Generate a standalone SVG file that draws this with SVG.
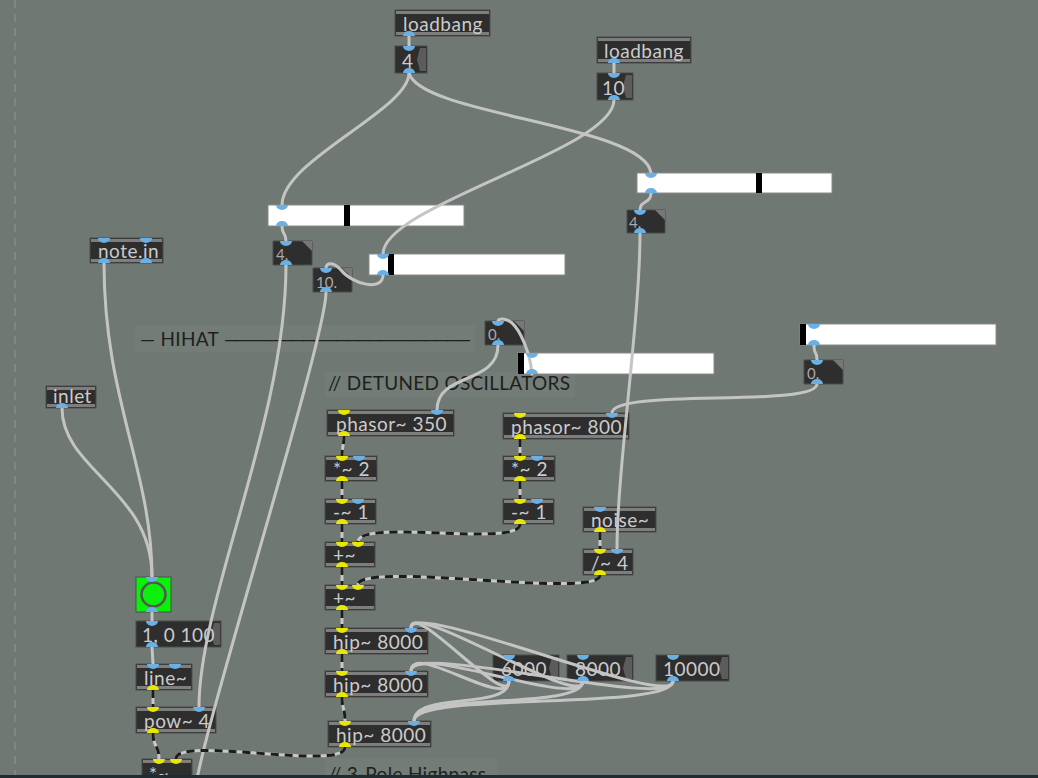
<svg xmlns="http://www.w3.org/2000/svg" xmlns:xlink="http://www.w3.org/1999/xlink" width="1038" height="778" viewBox="0 0 1038 778">
<style>
.bg{fill:#6f7872}
.ob{fill:#2e2e2e;stroke:#4c4c4c;stroke-width:1}
.bar{fill:#7e7e7e}
.t{font-family:Lato,"Liberation Sans",sans-serif;font-size:19px;letter-spacing:0.5px;fill:#cbcbcb}
.nt{font-family:Lato,"Liberation Sans",sans-serif;font-size:15px;fill:#a9a9a9}
.c{font-family:Lato,"Liberation Sans",sans-serif;font-size:19px;letter-spacing:0.3px;fill:#1f1f1f}
.cbg{fill:#737c76}
.flag{fill:#5c5c5c}
.corner{fill:#777}
.sl{fill:#ffffff;stroke:#8a8a8a;stroke-width:1}
.h{fill:#000}
.b{fill:#6ab0e4}
.y{fill:#e8e800}
.cord{fill:none;stroke:#c4c4c4;stroke-width:3;stroke-linecap:round}
.sig{fill:none;stroke:#c8c8c8;stroke-width:3}
.sigd{fill:none;stroke:#1c1c1c;stroke-width:3;stroke-dasharray:8 6}
</style>
<defs>
<path id="pin" d="M-6 0h12a6 5 0 0 1-12 0z"/>
<path id="pout" d="M-6 0h12a6 5 0 0 0-12 0z"/>
</defs>
<rect class="bg" x="0" y="0" width="1038" height="778"/>
<line x1="15" y1="0" x2="15" y2="778" stroke="#858c87" stroke-width="1.5" stroke-dasharray="8 6"/>

<!-- comments -->
<g id="cmt-hihat"><rect class="cbg" x="135" y="325" width="340" height="27"/><text class="c" x="140" y="346">— HIHAT <tspan letter-spacing="-4px">——————————————————————</tspan></text></g>
<g id="cmt-detuned"><rect class="cbg" x="325" y="372" width="250" height="25"/><text class="c" x="328" y="390">// DETUNED OSCILLATORS</text></g>
<g id="cmt-hp"><rect class="cbg" x="325" y="758" width="173" height="20"/><text class="c" x="328" y="781">// 3-Pole Highpass</text></g>

<!-- top -->
<g id="loadbang1"><rect class="ob" x="395" y="10" width="95" height="26"/><rect class="bar" x="396" y="11" width="93" height="3"/><rect class="bar" x="396" y="32" width="93" height="3"/><text class="t" x="403" y="31">loadbang</text></g>
<g id="msg4"><rect class="ob" x="395" y="46" width="32" height="27"/><polygon class="flag" points="420,48 426,48 426,71 420,71 417,59.5"/><text class="t" x="402" y="68">4</text></g>
<g id="loadbang2"><rect class="ob" x="597" y="37" width="94" height="26"/><rect class="bar" x="598" y="38" width="92" height="3"/><rect class="bar" x="598" y="59" width="92" height="3"/><text class="t" x="604" y="58">loadbang</text></g>
<g id="msg10"><rect class="ob" x="597" y="73" width="36" height="27"/><polygon class="flag" points="626,75 632,75 632,98 626,98 623,86.5"/><text class="t" x="602" y="95">10</text></g>

<!-- sliders -->
<g id="slider1"><rect class="sl" x="268" y="205" width="196" height="21"/><rect class="h" x="344" y="205" width="6" height="21"/></g>
<g id="slider2"><rect class="sl" x="637" y="173" width="195" height="20"/><rect class="h" x="756" y="173" width="6" height="20"/></g>
<g id="slider3"><rect class="sl" x="369" y="254" width="196" height="21"/><rect class="h" x="388" y="254" width="6" height="21"/></g>
<g id="slider4"><rect class="sl" x="800" y="324" width="196" height="21"/><rect class="h" x="800" y="324" width="6" height="21"/></g>
<g id="slider5"><rect class="sl" x="518" y="353" width="196" height="21"/><rect class="h" x="518" y="353" width="6" height="21"/></g>

<!-- number boxes -->
<g id="num4a"><polygon class="ob" points="273,241 312,241 312,265 273,265"/><polygon class="corner" points="302,241 312,241 312,251"/><text class="nt" x="276" y="260">4.</text></g>
<g id="num10"><polygon class="ob" points="313,268 352,268 352,292 313,292"/><polygon class="corner" points="342,268 352,268 352,278"/><text class="nt" x="316" y="288">10.</text></g>
<g id="num4b"><polygon class="ob" points="627,210 665,210 665,233 627,233"/><polygon class="corner" points="655,210 665,210 665,220"/><text class="nt" x="629" y="228">4.</text></g>
<g id="num0a"><polygon class="ob" points="485,321 524,321 524,345 485,345"/><polygon class="corner" points="514,321 524,321 524,331"/><text class="nt" x="488" y="340">0.</text></g>
<g id="num0b"><polygon class="ob" points="804,360 843,360 843,384 804,384"/><polygon class="corner" points="833,360 843,360 843,370"/><text class="nt" x="807" y="379">0.</text></g>

<!-- left chain -->
<g id="notein"><rect class="ob" x="90" y="238" width="73" height="25"/><rect class="bar" x="91" y="239" width="71" height="3"/><rect class="bar" x="91" y="259" width="71" height="3"/><text class="t" x="98" y="258">note.in</text></g>
<g id="inlet"><rect class="ob" x="46" y="386" width="50" height="22"/><rect class="bar" x="47" y="387" width="48" height="3"/><rect class="bar" x="47" y="404" width="48" height="3"/><text class="t" x="53" y="403">inlet</text></g>
<g id="bang"><rect x="136" y="577" width="35" height="35" fill="#0af00a" stroke="#4c4c4c"/><circle cx="153.5" cy="594.5" r="12" fill="none" stroke="#555" stroke-width="2.5"/></g>
<g id="msg-env"><rect class="ob" x="136" y="621" width="85" height="26"/><polygon class="flag" points="214,623 220,623 220,645 214,645 211,634"/><text class="t" x="142" y="642">1, 0 100</text></g>
<g id="line"><rect class="ob" x="136" y="664" width="56" height="26"/><rect class="bar" x="137" y="665" width="54" height="3"/><rect class="bar" x="137" y="686" width="54" height="3"/><text class="t" x="144" y="685">line~</text></g>
<g id="pow"><rect class="ob" x="136" y="707" width="80" height="26"/><rect class="bar" x="137" y="708" width="78" height="3"/><rect class="bar" x="137" y="729" width="78" height="3"/><text class="t" x="144" y="728">pow~ 4</text></g>
<g id="mul-out"><rect class="ob" x="142" y="759" width="50" height="26"/><rect class="bar" x="143" y="760" width="48" height="3"/><text class="t" x="149" y="781">*~</text></g>

<!-- oscillators -->
<g id="phasor350"><rect class="ob" x="327" y="410" width="127" height="26"/><rect class="bar" x="328" y="411" width="125" height="3"/><rect class="bar" x="328" y="432" width="125" height="3"/><text class="t" x="336" y="431">phasor~ 350</text></g>
<g id="mul2a"><rect class="ob" x="325" y="456" width="52" height="25"/><rect class="bar" x="326" y="457" width="50" height="3"/><rect class="bar" x="326" y="477" width="50" height="3"/><text class="t" x="333" y="476">*~ 2</text></g>
<g id="sub1a"><rect class="ob" x="325" y="499" width="51" height="25"/><rect class="bar" x="326" y="500" width="49" height="3"/><rect class="bar" x="326" y="520" width="49" height="3"/><text class="t" x="333" y="519">-~ 1</text></g>
<g id="add1"><rect class="ob" x="325" y="542" width="50" height="25"/><rect class="bar" x="326" y="543" width="48" height="3"/><rect class="bar" x="326" y="563" width="48" height="3"/><text class="t" x="333" y="562">+~</text></g>
<g id="add2"><rect class="ob" x="325" y="585" width="50" height="25"/><rect class="bar" x="326" y="586" width="48" height="3"/><rect class="bar" x="326" y="606" width="48" height="3"/><text class="t" x="333" y="605">+~</text></g>
<g id="hip1"><rect class="ob" x="325" y="628" width="103" height="26"/><rect class="bar" x="326" y="629" width="101" height="3"/><rect class="bar" x="326" y="650" width="101" height="3"/><text class="t" x="333" y="649">hip~ 8000</text></g>
<g id="hip2"><rect class="ob" x="325" y="671" width="103" height="26"/><rect class="bar" x="326" y="672" width="101" height="3"/><rect class="bar" x="326" y="693" width="101" height="3"/><text class="t" x="333" y="692">hip~ 8000</text></g>
<g id="hip3"><rect class="ob" x="328" y="721" width="103" height="26"/><rect class="bar" x="329" y="722" width="101" height="3"/><rect class="bar" x="329" y="743" width="101" height="3"/><text class="t" x="336" y="742">hip~ 8000</text></g>
<g id="phasor800"><rect class="ob" x="503" y="413" width="126" height="26"/><rect class="bar" x="504" y="414" width="124" height="3"/><rect class="bar" x="504" y="435" width="124" height="3"/><text class="t" x="511" y="434">phasor~ 800</text></g>
<g id="mul2b"><rect class="ob" x="503" y="456" width="52" height="25"/><rect class="bar" x="504" y="457" width="50" height="3"/><rect class="bar" x="504" y="477" width="50" height="3"/><text class="t" x="511" y="476">*~ 2</text></g>
<g id="sub1b"><rect class="ob" x="503" y="499" width="51" height="25"/><rect class="bar" x="504" y="500" width="49" height="3"/><rect class="bar" x="504" y="520" width="49" height="3"/><text class="t" x="511" y="519">-~ 1</text></g>
<g id="noise"><rect class="ob" x="583" y="507" width="73" height="25"/><rect class="bar" x="584" y="508" width="71" height="3"/><rect class="bar" x="584" y="528" width="71" height="3"/><text class="t" x="591" y="527">noise~</text></g>
<g id="div4"><rect class="ob" x="583" y="549" width="50" height="26"/><rect class="bar" x="584" y="550" width="48" height="3"/><rect class="bar" x="584" y="571" width="48" height="3"/><text class="t" x="591" y="570">/~ 4</text></g>
<g id="msg6000"><rect class="ob" x="493" y="655" width="66" height="26"/><polygon class="flag" points="552,657 558,657 558,679 552,679 549,668"/><text class="t" x="501" y="676">6000</text></g>
<g id="msg8000"><rect class="ob" x="567" y="655" width="66" height="26"/><polygon class="flag" points="626,657 632,657 632,679 626,679 623,668"/><text class="t" x="575" y="676">8000</text></g>
<g id="msg10000"><rect class="ob" x="656" y="655" width="73" height="26"/><polygon class="flag" points="722,657 728,657 728,679 722,679 719,668"/><text class="t" x="663" y="676">10000</text></g>

<!-- connectors -->
<g id="connectors">
<path class="cord" d="M409,36 C409,40 409,42 409,46"/>
<path class="cord" d="M614,63 L614,73"/>
<path class="cord" d="M409,73 C409,110 282,160 282,205"/>
<path class="cord" d="M409,73 C420,115 645,125 651,173"/>
<path class="cord" d="M614,100 C614,150 383,205 383,254"/>
<path class="cord" d="M282,226 C282,236 286,232 286,241"/>
<path class="cord" d="M651,193 C651,204 640,200 640,210"/>
<path class="cord" d="M383,275 C383,292 352,284 341,270 C334,262 326,262 326,268"/>
<path class="cord" d="M286,265 C286,420 199,600 199,707"/>
<path class="cord" d="M326,292 C326,340 205,720 195,790"/>
<path class="cord" d="M640,233 C640,320 617,470 617,549"/>
<path class="cord" d="M498,345 C498,385 437,372 437,410"/>
<path class="cord" d="M532,374 C530,352 520,330 512,323 C506,318 499,318 498,321"/>
<path class="cord" d="M814,345 C814,356 817,350 817,360"/>
<path class="cord" d="M817,384 C817,408 612,388 612,413"/>
<path class="cord" d="M104,263 C104,400 152,470 152,577"/>
<path class="cord" d="M62,408 C62,470 152,490 152,577"/>
<path class="cord" d="M152,612 L152,621"/>
<path class="cord" d="M152,647 L153,664"/>
<path class="cord" d="M509,681 C509,711 411,598 411,628"/>
<path class="cord" d="M583,681 C583,711 411,598 411,628"/>
<path class="cord" d="M673,681 C673,711 411,598 411,628"/>
<path class="cord" d="M509,681 C509,711 411,641 411,671"/>
<path class="cord" d="M583,681 C583,711 411,641 411,671"/>
<path class="cord" d="M673,681 C673,711 411,641 411,671"/>
<path class="cord" d="M509,681 C509,711 414,691 414,721"/>
<path class="cord" d="M583,681 C583,711 414,691 414,721"/>
<path class="cord" d="M673,681 C673,711 414,691 414,721"/>
<g id="signal">
<path class="sig" d="M153,690 L153,707"/><path class="sigd" d="M153,690 L153,707"/>
<path class="sig" d="M153,733 C153,748 159,744 159,759"/><path class="sigd" d="M153,733 C153,748 159,744 159,759"/>
<path class="sig" d="M345,747 C345,772 176,735 176,759"/><path class="sigd" d="M345,747 C345,772 176,735 176,759"/>
<path class="sig" d="M344,436 C344,446 342,446 342,456"/><path class="sigd" d="M344,436 C344,446 342,446 342,456"/>
<path class="sig" d="M342,481 L342,499"/><path class="sigd" d="M342,481 L342,499"/>
<path class="sig" d="M342,524 L342,542"/><path class="sigd" d="M342,524 L342,542"/>
<path class="sig" d="M342,567 L342,585"/><path class="sigd" d="M342,567 L342,585"/>
<path class="sig" d="M342,610 L342,628"/><path class="sigd" d="M342,610 L342,628"/>
<path class="sig" d="M342,654 L342,671"/><path class="sigd" d="M342,654 L342,671"/>
<path class="sig" d="M342,697 C342,710 345,708 345,721"/><path class="sigd" d="M342,697 C342,710 345,708 345,721"/>
<path class="sig" d="M520,439 L520,456"/><path class="sigd" d="M520,439 L520,456"/>
<path class="sig" d="M520,481 L520,499"/><path class="sigd" d="M520,481 L520,499"/>
<path class="sig" d="M520,524 C520,548 358,518 358,542"/><path class="sigd" d="M520,524 C520,548 358,518 358,542"/>
<path class="sig" d="M600,532 L600,549"/><path class="sigd" d="M600,532 L600,549"/>
<path class="sig" d="M600,575 C600,600 358,560 358,585"/><path class="sigd" d="M600,575 C600,600 358,560 358,585"/>
</g>
</g>

<!-- ports -->
<g id="ports">
<use href="#pout" x="409" y="36" class="b"/><use href="#pin" x="409" y="46" class="b"/><use href="#pout" x="409" y="73" class="b"/>
<use href="#pout" x="614" y="63" class="b"/><use href="#pin" x="614" y="73" class="b"/><use href="#pout" x="614" y="100" class="b"/>
<use href="#pin" x="282" y="205" class="b"/><use href="#pout" x="282" y="226" class="b"/>
<use href="#pin" x="651" y="173" class="b"/><use href="#pout" x="651" y="193" class="b"/>
<use href="#pin" x="383" y="254" class="b"/><use href="#pout" x="383" y="275" class="b"/>
<use href="#pin" x="814" y="324" class="b"/><use href="#pout" x="814" y="345" class="b"/>
<use href="#pin" x="532" y="353" class="b"/><use href="#pout" x="532" y="374" class="b"/>
<use href="#pin" x="286" y="241" class="b"/><use href="#pout" x="286" y="265" class="b"/>
<use href="#pin" x="326" y="268" class="b"/><use href="#pout" x="326" y="292" class="b"/>
<use href="#pin" x="640" y="210" class="b"/><use href="#pout" x="640" y="233" class="b"/>
<use href="#pin" x="498" y="321" class="b"/><use href="#pout" x="498" y="345" class="b"/>
<use href="#pin" x="817" y="360" class="b"/><use href="#pout" x="817" y="384" class="b"/>
<use href="#pin" x="104" y="238" class="b"/><use href="#pin" x="146" y="238" class="b"/><use href="#pout" x="104" y="263" class="b"/><use href="#pout" x="146" y="263" class="b"/>
<use href="#pout" x="62" y="408" class="b"/>
<use href="#pin" x="152" y="577" class="b"/><use href="#pout" x="152" y="612" class="b"/>
<use href="#pin" x="152" y="621" class="b"/><use href="#pout" x="152" y="647" class="b"/>
<use href="#pin" x="153" y="664" class="b"/><use href="#pin" x="175" y="664" class="b"/><use href="#pout" x="153" y="690" class="y"/>
<use href="#pin" x="153" y="707" class="y"/><use href="#pin" x="199" y="707" class="b"/><use href="#pout" x="153" y="733" class="y"/>
<use href="#pin" x="159" y="759" class="y"/><use href="#pin" x="176" y="759" class="y"/>
<use href="#pin" x="344" y="410" class="y"/><use href="#pin" x="437" y="410" class="b"/><use href="#pout" x="344" y="436" class="y"/>
<use href="#pin" x="342" y="456" class="y"/><use href="#pin" x="359" y="456" class="b"/><use href="#pout" x="342" y="481" class="y"/>
<use href="#pin" x="342" y="499" class="y"/><use href="#pin" x="358" y="499" class="b"/><use href="#pout" x="342" y="524" class="y"/>
<use href="#pin" x="342" y="542" class="y"/><use href="#pin" x="358" y="542" class="y"/><use href="#pout" x="342" y="567" class="y"/>
<use href="#pin" x="342" y="585" class="y"/><use href="#pin" x="358" y="585" class="y"/><use href="#pout" x="342" y="610" class="y"/>
<use href="#pin" x="342" y="628" class="y"/><use href="#pin" x="411" y="628" class="b"/><use href="#pout" x="342" y="654" class="y"/>
<use href="#pin" x="342" y="671" class="y"/><use href="#pin" x="411" y="671" class="b"/><use href="#pout" x="342" y="697" class="y"/>
<use href="#pin" x="345" y="721" class="y"/><use href="#pin" x="414" y="721" class="b"/><use href="#pout" x="345" y="747" class="y"/>
<use href="#pin" x="520" y="413" class="y"/><use href="#pin" x="612" y="413" class="b"/><use href="#pout" x="520" y="439" class="y"/>
<use href="#pin" x="520" y="456" class="y"/><use href="#pin" x="537" y="456" class="b"/><use href="#pout" x="520" y="481" class="y"/>
<use href="#pin" x="520" y="499" class="y"/><use href="#pin" x="537" y="499" class="b"/><use href="#pout" x="520" y="524" class="y"/>
<use href="#pin" x="600" y="507" class="b"/><use href="#pout" x="600" y="532" class="y"/>
<use href="#pin" x="600" y="549" class="y"/><use href="#pin" x="617" y="549" class="b"/><use href="#pout" x="600" y="575" class="y"/>
<use href="#pin" x="509" y="655" class="b"/><use href="#pout" x="509" y="681" class="b"/>
<use href="#pin" x="583" y="655" class="b"/><use href="#pout" x="583" y="681" class="b"/>
<use href="#pin" x="673" y="655" class="b"/><use href="#pout" x="673" y="681" class="b"/>
</g>
<rect x="0" y="775" width="1038" height="3" fill="#1e2b31"/>
</svg>
